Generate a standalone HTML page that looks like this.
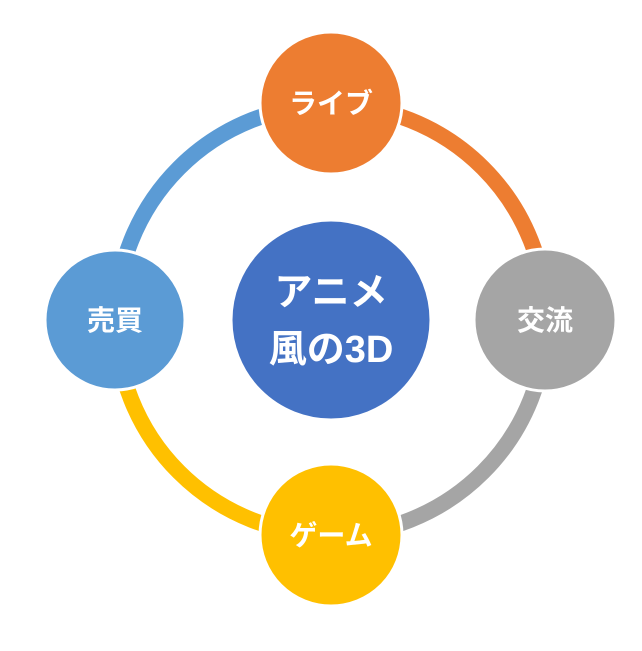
<!DOCTYPE html>
<html><head><meta charset="utf-8"><style>
html,body{margin:0;padding:0;background:#fff;}
svg text{font-family:"Liberation Sans","Noto Sans CJK JP",sans-serif;font-weight:bold;fill:#fff;text-anchor:middle;}
</style></head><body>
<svg width="642" height="646" viewBox="0 0 642 646" xmlns="http://www.w3.org/2000/svg">
<g fill="none" stroke-width="16">
<path d="M331 105 A215 215 0 0 1 546 320" stroke="#ED7D31"/>
<path d="M546 320 A215 215 0 0 1 331 535" stroke="#A5A5A5"/>
<path d="M331 535 A215 215 0 0 1 116 320" stroke="#FFC000"/>
<path d="M116 320 A215 215 0 0 1 331 105" stroke="#5B9BD5"/>
</g>
<g stroke="#fff" stroke-width="3">
<circle cx="331" cy="103" r="71" fill="#ED7D31"/>
<circle cx="545" cy="320" r="71" fill="#A5A5A5"/>
<circle cx="331" cy="535" r="71" fill="#FFC000"/>
<circle cx="115" cy="320" r="70" fill="#5B9BD5"/>
<circle cx="331" cy="320" r="100" fill="#4472C4"/>
</g>
<text x="331" y="113" font-size="28">ライブ</text>
<text x="545" y="330" font-size="28">交流</text>
<text x="331" y="545" font-size="28">ゲーム</text>
<text x="115" y="330" font-size="28">売買</text>
<text x="331" y="305" font-size="38">アニメ</text>
<text x="331" y="362" font-size="38">風の3D</text>
</svg>
</body></html>
